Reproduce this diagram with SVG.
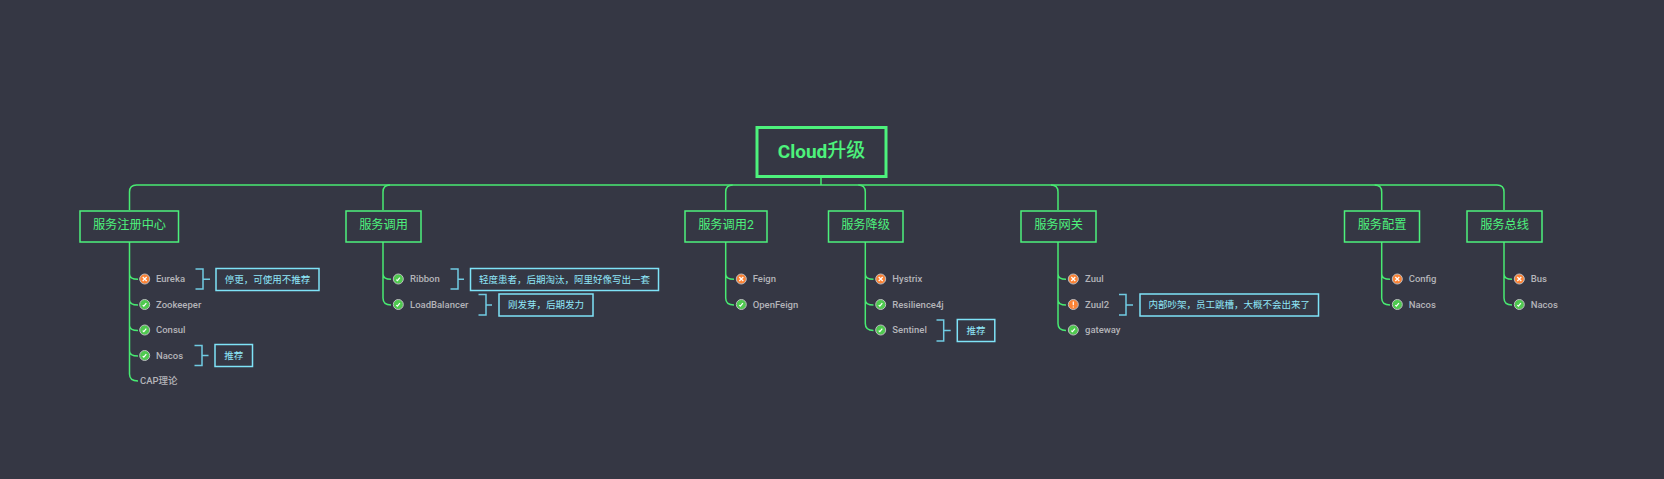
<svg xmlns="http://www.w3.org/2000/svg" width="1664" height="479" viewBox="0 0 1664 479">
<style>
text{font-family:Roboto,"Noto Sans CJK SC",sans-serif;dominant-baseline:central}
.c{fill:none;stroke:#48ea72;stroke-width:1.5}
.root rect{fill:#353744;stroke:#4df27c;stroke-width:3}
.root text{fill:#4df27c;font-size:19px;font-weight:500;text-anchor:middle}
.main rect{fill:#353744;stroke:#4df27c;stroke-width:1.5}
.main text{fill:#4df27c;font-size:12.2px;text-anchor:middle}
.leaf text{fill:#b4b4b9;font-size:9.5px;font-weight:500}
.note rect{fill:#353744;stroke:#7fe3f8;stroke-width:1.5}
.note text{fill:#90e8fa;font-size:9.5px;text-anchor:middle}
.note path{fill:none;stroke:#70cbe2;stroke-width:1.5}
.ic{stroke:#bcbcc0;stroke-width:1}
.x{fill:#fb8234}.ok{fill:#4fc94f}
.g{fill:none;stroke:#fff;stroke-width:1.2}
</style>
<defs>
<g id="bad"><circle class="ic x" r="5"/><path class="g" d="M-2-2 2 2M2-2-2 2"/></g>
<g id="good"><circle class="ic ok" r="5"/><path class="g" d="M-2 .6-.9 1.6 1.6-1.4"/></g>
<g id="warn"><circle class="ic x" r="5"/><path class="g" d="M0-3V.8M0 2V3"/></g>
</defs>
<rect width="1664" height="479" fill="#353744"/>
<g id="connectors" class="c">
<path d="M821 177V185"/>
<path d="M129.500 210V192Q129.500 185 136.500 185H1497Q1504 185 1504 192V210"/>
<path d="M383 210V192Q383 185 390 185M725.700 210V192Q725.700 185 732.700 185M865.300 210V192Q865.300 185 858.300 185M1058 210V192Q1058 185 1051 185M1381.700 210V192Q1381.700 185 1374.700 185"/>
<path d="M129.500 242V374Q129.500 381 138 381M129.500 274Q129.500 279.300 138 279.300M129.500 300Q129.500 305 138 305M129.500 325.500Q129.500 330.500 138 330.500M129.500 351Q129.500 356 138 356"/>
<path d="M383 242V298Q383 305 391 305M383 274Q383 279.300 391 279.300"/>
<path d="M725.700 242V298Q725.700 305 734 305M725.700 274Q725.700 279.300 734 279.300"/>
<path d="M865.300 242V323.500Q865.300 330.500 873.500 330.500M865.300 274Q865.300 279.300 873.500 279.300M865.300 300Q865.300 305 873.500 305"/>
<path d="M1058 242V323.500Q1058 330.500 1066 330.500M1058 274Q1058 279.300 1066 279.300M1058 300Q1058 305 1066 305"/>
<path d="M1381.700 242V298Q1381.700 305 1390 305M1381.700 274Q1381.700 279.300 1390 279.300"/>
<path d="M1504 242V298Q1504 305 1512 305M1504 274Q1504 279.300 1512 279.300"/>
</g>
<g id="root" class="root"><rect x="757" y="127.500" width="129" height="49"/><text x="821.500" y="150.500"><tspan font-weight="700">Cloud</tspan>升级</text></g>
<g id="n1" class="main"><rect x="80" y="211" width="98.500" height="31"/><text x="129.500" y="225.300">服务注册中心</text></g>
<g id="n2" class="main"><rect x="346" y="211" width="75" height="31"/><text x="383.500" y="225.300">服务调用</text></g>
<g id="n3" class="main"><rect x="685" y="211" width="82" height="31"/><text x="726" y="225.300">服务调用2</text></g>
<g id="n4" class="main"><rect x="828.500" y="211" width="74.500" height="31"/><text x="865.500" y="225.300">服务降级</text></g>
<g id="n5" class="main"><rect x="1021" y="211" width="75" height="31"/><text x="1058.500" y="225.300">服务网关</text></g>
<g id="n6" class="main"><rect x="1344.500" y="211" width="75" height="31"/><text x="1382" y="225.300">服务配置</text></g>
<g id="n7" class="main"><rect x="1467" y="211" width="75" height="31"/><text x="1504.500" y="225.300">服务总线</text></g>
<g id="l1" class="leaf"><use href="#bad" x="144.700" y="279"/><text x="156" y="278.500">Eureka</text></g>
<g id="l2" class="leaf"><use href="#good" x="144.700" y="304.500"/><text x="156" y="304">Zookeeper</text></g>
<g id="l3" class="leaf"><use href="#good" x="144.700" y="330"/><text x="156" y="329.500">Consul</text></g>
<g id="l4" class="leaf"><use href="#good" x="144.700" y="355.500"/><text x="156" y="355">Nacos</text></g>
<g id="l5" class="leaf"><text x="140" y="380.300">CAP理论</text></g>
<g id="l6" class="leaf"><use href="#good" x="398.300" y="279"/><text x="410" y="278.500">Ribbon</text></g>
<g id="l7" class="leaf"><use href="#good" x="398.300" y="304.500"/><text x="410" y="304">LoadBalancer</text></g>
<g id="l8" class="leaf"><use href="#bad" x="741.300" y="279"/><text x="752.700" y="278.500">Feign</text></g>
<g id="l9" class="leaf"><use href="#good" x="741.300" y="304.500"/><text x="752.700" y="304">OpenFeign</text></g>
<g id="l10" class="leaf"><use href="#bad" x="880.700" y="279"/><text x="892.300" y="278.500">Hystrix</text></g>
<g id="l11" class="leaf"><use href="#good" x="880.700" y="304.500"/><text x="892.300" y="304">Resilience4j</text></g>
<g id="l12" class="leaf"><use href="#good" x="880.700" y="330"/><text x="892.300" y="329.500">Sentinel</text></g>
<g id="l13" class="leaf"><use href="#bad" x="1073.300" y="279"/><text x="1085" y="278.500">Zuul</text></g>
<g id="l14" class="leaf"><use href="#warn" x="1073.300" y="304.500"/><text x="1085" y="304">Zuul2</text></g>
<g id="l15" class="leaf"><use href="#good" x="1073.300" y="330"/><text x="1085" y="329.500">gateway</text></g>
<g id="l16" class="leaf"><use href="#bad" x="1397.300" y="279"/><text x="1408.700" y="278.500">Config</text></g>
<g id="l17" class="leaf"><use href="#good" x="1397.300" y="304.500"/><text x="1408.700" y="304">Nacos</text></g>
<g id="l18" class="leaf"><use href="#bad" x="1519.300" y="279"/><text x="1530.700" y="278.500">Bus</text></g>
<g id="l19" class="leaf"><use href="#good" x="1519.300" y="304.500"/><text x="1530.700" y="304">Nacos</text></g>
<g id="a1" class="note"><path d="M195.500 269H203V289H195.500M203 279.300H210"/><rect x="216" y="268.500" width="103" height="22"/><text x="267.500" y="279">停更，可使用不推荐</text></g>
<g id="a2" class="note"><path d="M194.500 345.500H202V365.500H194.500M202 355.500H208.500"/><rect x="215" y="344.500" width="37.500" height="22"/><text x="233.700" y="355">推荐</text></g>
<g id="a3" class="note"><path d="M450.500 269H458V289H450.500M458 279.300H464"/><rect x="470.500" y="268.500" width="188" height="22"/><text x="564.500" y="279">轻度患者，后期淘汰，阿里好像写出一套</text></g>
<g id="a4" class="note"><path d="M478.500 294.500H486V315H478.500M486 305H492"/><rect x="499" y="294" width="94" height="22"/><text x="546" y="304.500">刚发芽，后期发力</text></g>
<g id="a5" class="note"><path d="M936.500 320H943.700V341H936.500M943.700 330.500H950.700"/><rect x="957.300" y="319.500" width="37.500" height="22"/><text x="976" y="330">推荐</text></g>
<g id="a6" class="note"><path d="M1119 294.500H1126V315H1119M1126 305H1133"/><rect x="1140" y="294" width="178.500" height="22"/><text x="1229.200" y="304.500">内部吵架，员工跳槽，大概不会出来了</text></g>
</svg>
